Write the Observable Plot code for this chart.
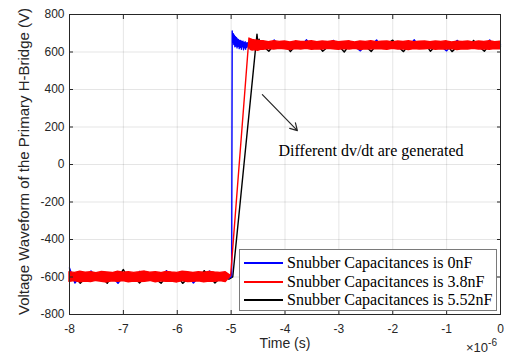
<!DOCTYPE html>
<html><head><meta charset="utf-8">
<script src="https://cdn.jsdelivr.net/npm/d3@7"></script>
<script src="https://cdn.jsdelivr.net/npm/@observablehq/plot@0.6"></script>
<style>
body{margin:0;background:#fff;}
#wrap{position:relative;width:508px;height:356px;}
.legend{position:absolute;left:239px;top:249px;width:258px;height:62px;border:1px solid #7a7a7a;background:#fff;font-family:"Liberation Serif","Times New Roman",serif;font-size:16px;color:#000;box-sizing:border-box}
.row{position:absolute;left:4px;height:18px;display:flex;align-items:center;white-space:nowrap}
.row .l{display:inline-block;width:39px;height:1.5px;margin-right:4px}
.exp{position:absolute;left:466px;top:341px;font-family:"Liberation Sans",Arial,sans-serif;font-size:13px;line-height:13px;color:#262626;white-space:nowrap}
.exp span{font-size:10px;position:relative;top:-6px}
</style></head>
<body><div id="wrap"></div>
<script>
const xTicks = [-8,-7,-6,-5,-4,-3,-2,-1,0];
const yTicks = [-800,-600,-400,-200,0,200,400,600,800];
const seriesNames = ["Snubber Capacitances is 0nF","Snubber Capacitances is 3.8nF","Snubber Capacitances is 5.52nF"];
const seriesColors = ["#0000ff","#ff0000","#000000"];

// time in microseconds
const lowTimes = [-8.0,-7.9,-7.8,-7.7,-7.6,-7.5,-7.4,-7.3,-7.2,-7.1,-7.0,-6.9,-6.8,-6.7,-6.6,-6.5,-6.4,-6.3,-6.2,-6.1,-6.0,-5.9,-5.8,-5.7,-5.6,-5.5,-5.4,-5.3,-5.2,-5.1];
const highTimes = [-4.4,-4.3,-4.2,-4.1,-4.0,-3.9,-3.8,-3.7,-3.6,-3.5,-3.4,-3.3,-3.2,-3.1,-3.0,-2.9,-2.8,-2.7,-2.6,-2.5,-2.4,-2.3,-2.2,-2.1,-2.0,-1.9,-1.8,-1.7,-1.6,-1.5,-1.4,-1.3,-1.2,-1.1,-1.0,-0.9,-0.8,-0.7,-0.6,-0.5,-0.4,-0.3,-0.2,-0.1,0.0];

// 0 nF (blue) — sampled waveform
const blueLow = [-552,-632,-595,-610,-568,-605,-590,-612,-600,-634,-595,-588,-612,-570,-602,-595,-610,-598,-566,-604,-596,-612,-590,-632,-600,-594,-568,-605,-598,-610];
const blueRiseT = [-5.04,-5.0,-4.99,-4.98,-4.97,-4.96,-4.95,-4.94,-4.93,-4.92,-4.91,-4.90,-4.89,-4.88,-4.87,-4.86,-4.85,-4.84,-4.83,-4.82,-4.81,-4.80,-4.79,-4.78,-4.77,-4.76,-4.75,-4.74,-4.73,-4.72,-4.71,-4.70,-4.67,-4.64,-4.61,-4.58,-4.55,-4.52,-4.49,-4.46];
const blueRiseV = [-605,-600,-590,712,650,698,640,690,628,682,632,676,622,670,630,665,618,660,625,662,615,655,628,658,612,650,622,655,615,648,625,650,618,648,622,645,618,650,628,642];
const blueHigh = [648,630,664,625,640,618,652,632,665,628,640,620,645,662,630,622,642,628,606,640,635,664,625,645,630,618,650,632,665,626,640,622,646,630,606,640,662,628,638,620,648,632,664,625,640];

// 3.8 nF (red) — peak envelope (max / min per sample)
const redLowMax = [-574,-578,-572,-577,-575,-580,-573,-576,-579,-572,-577,-574,-578,-575,-571,-577,-574,-579,-573,-576,-578,-572,-575,-579,-574,-577,-573,-576,-578,-575];
const redLowMin = [-626,-622,-628,-624,-627,-621,-625,-629,-623,-626,-622,-628,-624,-627,-625,-621,-628,-623,-626,-624,-629,-622,-627,-625,-623,-628,-624,-626,-622,-627];
const redRiseT = [-5.0,-4.66,-4.64,-4.6,-4.55,-4.5,-4.45];
const redRiseMax = [-595,672,668,664,662,660,658];
const redRiseMin = [-595,672,612,608,610,606,612];
const redHighMax = [657,652,658,654,656,651,657,653,655,658,652,656,653,658,652,655,657,651,656,654,658,652,655,656,651,656,653,658,652,655,656,652,656,654,657,651,655,653,656,651,656,654,657,652,655];
const redHighMin = [612,616,613,617,614,611,616,613,617,612,615,613,617,614,612,616,613,617,611,615,613,616,614,612,617,613,615,611,616,613,614,617,612,615,613,616,611,614,613,617,613,615,612,616,614];

// 5.52 nF (black) — sampled waveform
const blackLow = [-620,-598,-633,-602,-594,-612,-600,-634,-590,-605,-560,-612,-598,-632,-600,-590,-612,-633,-598,-604,-592,-634,-606,-596,-610,-566,-600,-632,-604,-598];
const blackRiseT = [-5.04,-4.97,-4.52,-4.5,-4.48,-4.46];
const blackRiseV = [-612,-600,695,640,668,620];
const blackHigh = [630,604,640,628,645,602,635,622,662,630,640,604,628,645,632,600,640,625,650,630,603,638,622,645,663,628,602,640,630,622,645,604,635,628,640,602,630,645,622,662,630,604,640,628,632];

// annotation (data units)
const noteText = ["Different dv/dt are generated"];
const noteX = [-4.12];
const noteY = [75];
const arrowStart = [-4.42, 373];
const arrowEnd = [-3.77, 181];
const yTitle = ["Voltage Waveform of the Primary H-Bridge (V)"];

function build(lowV, riseT, riseV, highV) {
  return [
    ...lowTimes.map((t, i) => ({t, v: lowV[i]})),
    ...riseT.map((t, i) => ({t, v: riseV[i]})),
    ...highTimes.map((t, i) => ({t, v: highV[i]}))
  ];
}
const blueData = build(blueLow, blueRiseT, blueRiseV, blueHigh);
const blackData = build(blackLow, blackRiseT, blackRiseV, blackHigh);
const redBand = [
  ...lowTimes.map((t, i) => ({t, lo: redLowMin[i], hi: redLowMax[i]})),
  ...redRiseT.map((t, i) => ({t, lo: redRiseMin[i], hi: redRiseMax[i]})),
  ...highTimes.map((t, i) => ({t, lo: redHighMin[i], hi: redHighMax[i]}))
];

const fmt = d => String(d);
const chart = Plot.plot({
  width: 508, height: 356,
  marginLeft: 69, marginRight: 8, marginTop: 14, marginBottom: 42,
  style: {fontFamily: '"Liberation Sans", Arial, sans-serif', fontSize: "12px", color: "#262626", background: "#fff", overflow: "visible"},
  x: {domain: [-8, 0]},
  y: {domain: [-800, 800]},
  marks: [
    Plot.gridX(xTicks, {stroke: "#000", strokeOpacity: 0.1}),
    Plot.gridY(yTicks, {stroke: "#000", strokeOpacity: 0.1}),
    Plot.line(blackData, {x: "t", y: "v", stroke: seriesColors[2], strokeWidth: 1.4}),
    Plot.line(blueData, {x: "t", y: "v", stroke: seriesColors[0], strokeWidth: 1.4}),
    Plot.areaY(redBand, {x: "t", y1: "lo", y2: "hi", fill: seriesColors[1], stroke: seriesColors[1], strokeWidth: 1.4}),
    Plot.arrow([0], {x1: () => arrowStart[0], y1: () => arrowStart[1], x2: () => arrowEnd[0], y2: () => arrowEnd[1], stroke: "#262626", strokeWidth: 1.2, headLength: 10}),
    Plot.text(noteText, {x: noteX, y: noteY, text: d => d, textAnchor: "start", fontFamily: '"Liberation Serif","Times New Roman",serif', fontSize: 16, fill: "#000"}),
    Plot.frame({stroke: "#262626"}),
    Plot.axisX(xTicks, {tickSize: -4, tickPadding: 14, tickFormat: fmt, label: "Time (s)", labelAnchor: "center", labelArrow: "none", labelOffset: 33, fontSize: 12}),
    Plot.axisX(xTicks, {anchor: "top", tickSize: -4, tickFormat: () => "", label: null}),
    Plot.axisY(yTicks, {tickSize: -4, tickPadding: 9, tickFormat: fmt, label: null, fontSize: 12}),
    Plot.axisY(yTicks, {anchor: "right", tickSize: -4, tickFormat: () => "", label: null}),
    Plot.text(yTitle, {frameAnchor: "left", rotate: -90, dx: -45, dy: -3, textAnchor: "middle", text: d => d, fontSize: 15, fill: "#262626"})
  ]
});
const wrap = document.getElementById("wrap");
wrap.appendChild(chart);
// enlarge the x axis title font
chart.querySelectorAll("g[aria-label='x-axis label'] text").forEach(t => t.setAttribute("font-size", 14));

const leg = document.createElement("div");
leg.className = "legend";
const tops = [4, 23, 41];
seriesNames.forEach((n, i) => {
  const r = document.createElement("div");
  r.className = "row";
  r.style.top = tops[i] + "px";
  r.innerHTML = `<span class="l" style="background:${seriesColors[i]}"></span><span>${n}</span>`;
  leg.appendChild(r);
});
wrap.appendChild(leg);

const ex = document.createElement("div");
ex.className = "exp";
ex.innerHTML = "×10<span>-6</span>";
wrap.appendChild(ex);
</script>
</body></html>
